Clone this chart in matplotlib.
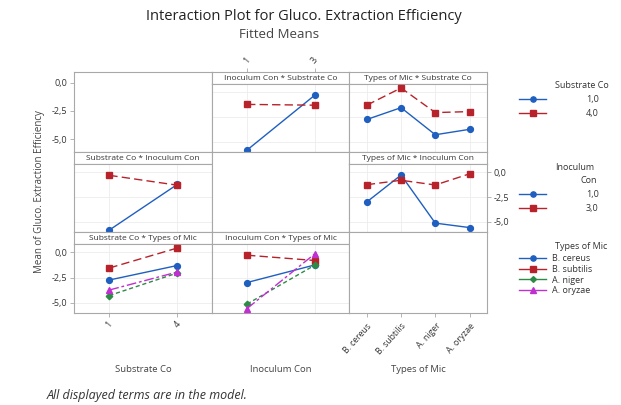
import numpy as np
import matplotlib
matplotlib.use("Agg")
import matplotlib.pyplot as plt
from matplotlib.lines import Line2D

plt.rcParams['font.family'] = ['Open Sans', 'DejaVu Sans']

# factor levels
sub_levels = ['1', '4']
inoc_levels = ['1', '3']
mic_levels = ['B. cereus', 'B. subtilis', 'A. niger', 'A. oryzae']
sub_legend = ['1,0', '4,0']
inoc_legend = ['1,0', '3,0']

# fitted means
# rows: substrate 1, 4 ; cols: inoculum 1, 3
sub_inoc = np.array([[-5.85, -0.30],
                     [-1.22, -1.30]])
# rows: substrate 1, 4 ; cols: microbes
sub_mic = np.array([[-2.75, -1.55, -4.30, -3.75],
                    [-1.30, 0.45, -2.05, -1.95]])
# rows: inoculum 1, 3 ; cols: microbes
inoc_mic = np.array([[-3.00, -0.27, -5.15, -5.60],
                     [-1.25, -0.80, -1.28, -0.15]])

# line styles per level (Minitab look)
styles = [
    dict(color='#1f5fc0', ls='-', marker='o', ms=4.2),
    dict(color='#b8232b', ls=(0, (6, 3)), marker='s', ms=4.2),
    dict(color='#2e8b45', ls=(0, (3, 2)), marker='D', ms=3.3),
    dict(color='#c02fcf', ls=(0, (7, 2, 2, 2)), marker='^', ms=4.4),
]

W, H = 621, 405
fig = plt.figure(figsize=(W / 100, H / 100), dpi=100)


def box(left, top, w, h):
    return [left / W, 1 - (top + h) / H, w / W, h / H]


col_left = [74, 212, 349]
col_w = [138, 137, 138]
row_top = [72, 152, 232]
row_h = [80, 80, 81]
strip_h = 12
ylim = (-6.05, 0.85)
yticks = [0.0, -2.5, -5.0]
yticklabels = ['0,0', '-2,5', '-5,0']
spine_c = '#a8a8a8'
txt_c = '#333333'


def style_axes(ax):
    for s in ax.spines.values():
        s.set_color(spine_c)
        s.set_linewidth(0.8)
    ax.tick_params(length=3, width=0.6, color=spine_c, labelsize=6.5,
                   labelcolor=txt_c, pad=2)
    ax.set_xticks([])
    ax.set_yticks([])


def panel(r, c, title, levels, series, n_lines):
    left, top, w, h = col_left[c], row_top[r], col_w[c], row_h[r]
    sax = fig.add_axes(box(left, top, w, strip_h))
    style_axes(sax)
    sax.text(0.5, 0.5, title, ha='center', va='center', fontsize=6,
             color=txt_c, transform=sax.transAxes)
    ax = fig.add_axes(box(left, top + strip_h, w, h - strip_h))
    style_axes(ax)
    x = np.arange(len(levels))
    ax.set_xlim(-0.52, len(levels) - 0.49)
    ax.set_ylim(*ylim)
    sax.set_xlim(ax.get_xlim())
    for yv in yticks:
        ax.axhline(yv, color='#ececec', lw=0.6, zorder=0)
    for xv in x:
        ax.axvline(xv, color='#ececec', lw=0.6, zorder=0)
    for i in range(n_lines):
        st = styles[i]
        ax.plot(x, series[i], color=st['color'], ls=st['ls'], lw=1.0,
                marker=st['marker'], ms=st['ms'], zorder=3)
    return ax, sax


# row 1
empty_tl = fig.add_axes(box(col_left[0], row_top[0], col_w[0], row_h[0]))
style_axes(empty_tl)
empty_tl.set_ylim(-6.16, 0.98)
empty_tl.set_yticks(yticks)
empty_tl.set_yticklabels(yticklabels)

ax, sax = panel(0, 1, 'Inoculum Con * Substrate Co', inoc_levels, sub_inoc, 2)
sax.set_xticks(np.arange(len(inoc_levels)))
sax.set_xticklabels(inoc_levels, rotation=50)
sax.xaxis.tick_top()
sax.tick_params(axis='x', length=3, labelsize=6.5, pad=2)

panel(0, 2, 'Types of Mic * Substrate Co', mic_levels, sub_mic, 2)

# row 2
panel(1, 0, 'Substrate Co * Inoculum Con', sub_levels, sub_inoc.T, 2)
empty_c = fig.add_axes(box(col_left[1], row_top[1], col_w[1], row_h[1]))
style_axes(empty_c)
ax, sax = panel(1, 2, 'Types of Mic * Inoculum Con', mic_levels, inoc_mic, 2)
ax.yaxis.tick_right()
ax.set_yticks(yticks)
ax.set_yticklabels(yticklabels)
ax.tick_params(axis='y', length=3, labelsize=6.5, pad=2)

# row 3
ax, sax = panel(2, 0, 'Substrate Co * Types of Mic', sub_levels, sub_mic.T, 4)
ax.set_yticks(yticks)
ax.set_yticklabels(yticklabels)
ax.set_xticks(np.arange(len(sub_levels)))
ax.set_xticklabels(sub_levels, rotation=50)
ax.tick_params(length=3, labelsize=6.5, pad=2)

panel(2, 1, 'Inoculum Con * Types of Mic', inoc_levels, inoc_mic.T, 4)

empty_br = fig.add_axes(box(col_left[2], row_top[2], col_w[2], row_h[2]))
style_axes(empty_br)
empty_br.set_xlim(-0.51, 3.5)
empty_br.set_xticks(np.arange(len(mic_levels)))
empty_br.set_xticklabels(mic_levels, rotation=48, ha='right',
                         rotation_mode='anchor')
empty_br.tick_params(axis='x', length=3, labelsize=6.2, pad=3)

# axis labels
for c, lab in enumerate(['Substrate Co', 'Inoculum Con', 'Types of Mic']):
    fig.text((col_left[c] + col_w[c] / 2) / W, 1 - 369 / H, lab,
             ha='center', va='center', fontsize=6.8, color='#444444')
fig.text(40 / W, 1 - 192 / H, 'Mean of Gluco. Extraction Efficiency',
         rotation=90, ha='center', va='center', fontsize=7, color='#444444')

# titles
fig.text(304 / W, 1 - 17 / H, 'Interaction Plot for Gluco. Extraction Efficiency',
         ha='center', va='center', fontsize=10.5, color='#222222')
fig.text(279 / W, 1 - 35 / H, 'Fitted Means', ha='center', va='center',
         fontsize=9.5, color='#444444')
fig.text(47 / W, 1 - 395 / H, 'All displayed terms are in the model.',
         ha='left', va='center', fontsize=9, style='italic', color='#333333')


# legends: titles as plain text, entries via fig.legend
def handles(n):
    return [Line2D([], [], color=styles[i]['color'], ls='-', lw=1.0,
                   marker=styles[i]['marker'], ms=styles[i]['ms'] * 0.9)
            for i in range(n)]


legend_kw = dict(loc='upper left', frameon=False, fontsize=6.5,
                 handlelength=3.0, borderaxespad=0, borderpad=0)

fig.text(555 / W, 1 - 85 / H, 'Substrate Co', ha='left', va='center',
         fontsize=6.5, color=txt_c)
leg1 = fig.legend(handles(2), sub_legend, bbox_to_anchor=(519 / W, 1 - 95 / H),
                  handletextpad=4.4, labelspacing=0.55, **legend_kw)

fig.text(555 / W, 1 - 167 / H, 'Inoculum', ha='left', va='center',
         fontsize=6.5, color=txt_c)
fig.text(597 / W, 1 - 181 / H, 'Con', ha='right', va='center',
         fontsize=6.5, color=txt_c)
leg2 = fig.legend(handles(2), inoc_legend, bbox_to_anchor=(519 / W, 1 - 190 / H),
                  handletextpad=4.4, labelspacing=0.55, **legend_kw)

fig.text(555 / W, 1 - 247 / H, 'Types of Mic', ha='left', va='center',
         fontsize=6.5, color=txt_c)
leg3 = fig.legend(handles(4), mic_levels, bbox_to_anchor=(519 / W, 1 - 254 / H),
                  handletextpad=0.7, labelspacing=0.2, **legend_kw)
for lg in (leg1, leg2, leg3):
    for t in lg.get_texts():
        t.set_color(txt_c)

fig.savefig('out.png', dpi=100)
